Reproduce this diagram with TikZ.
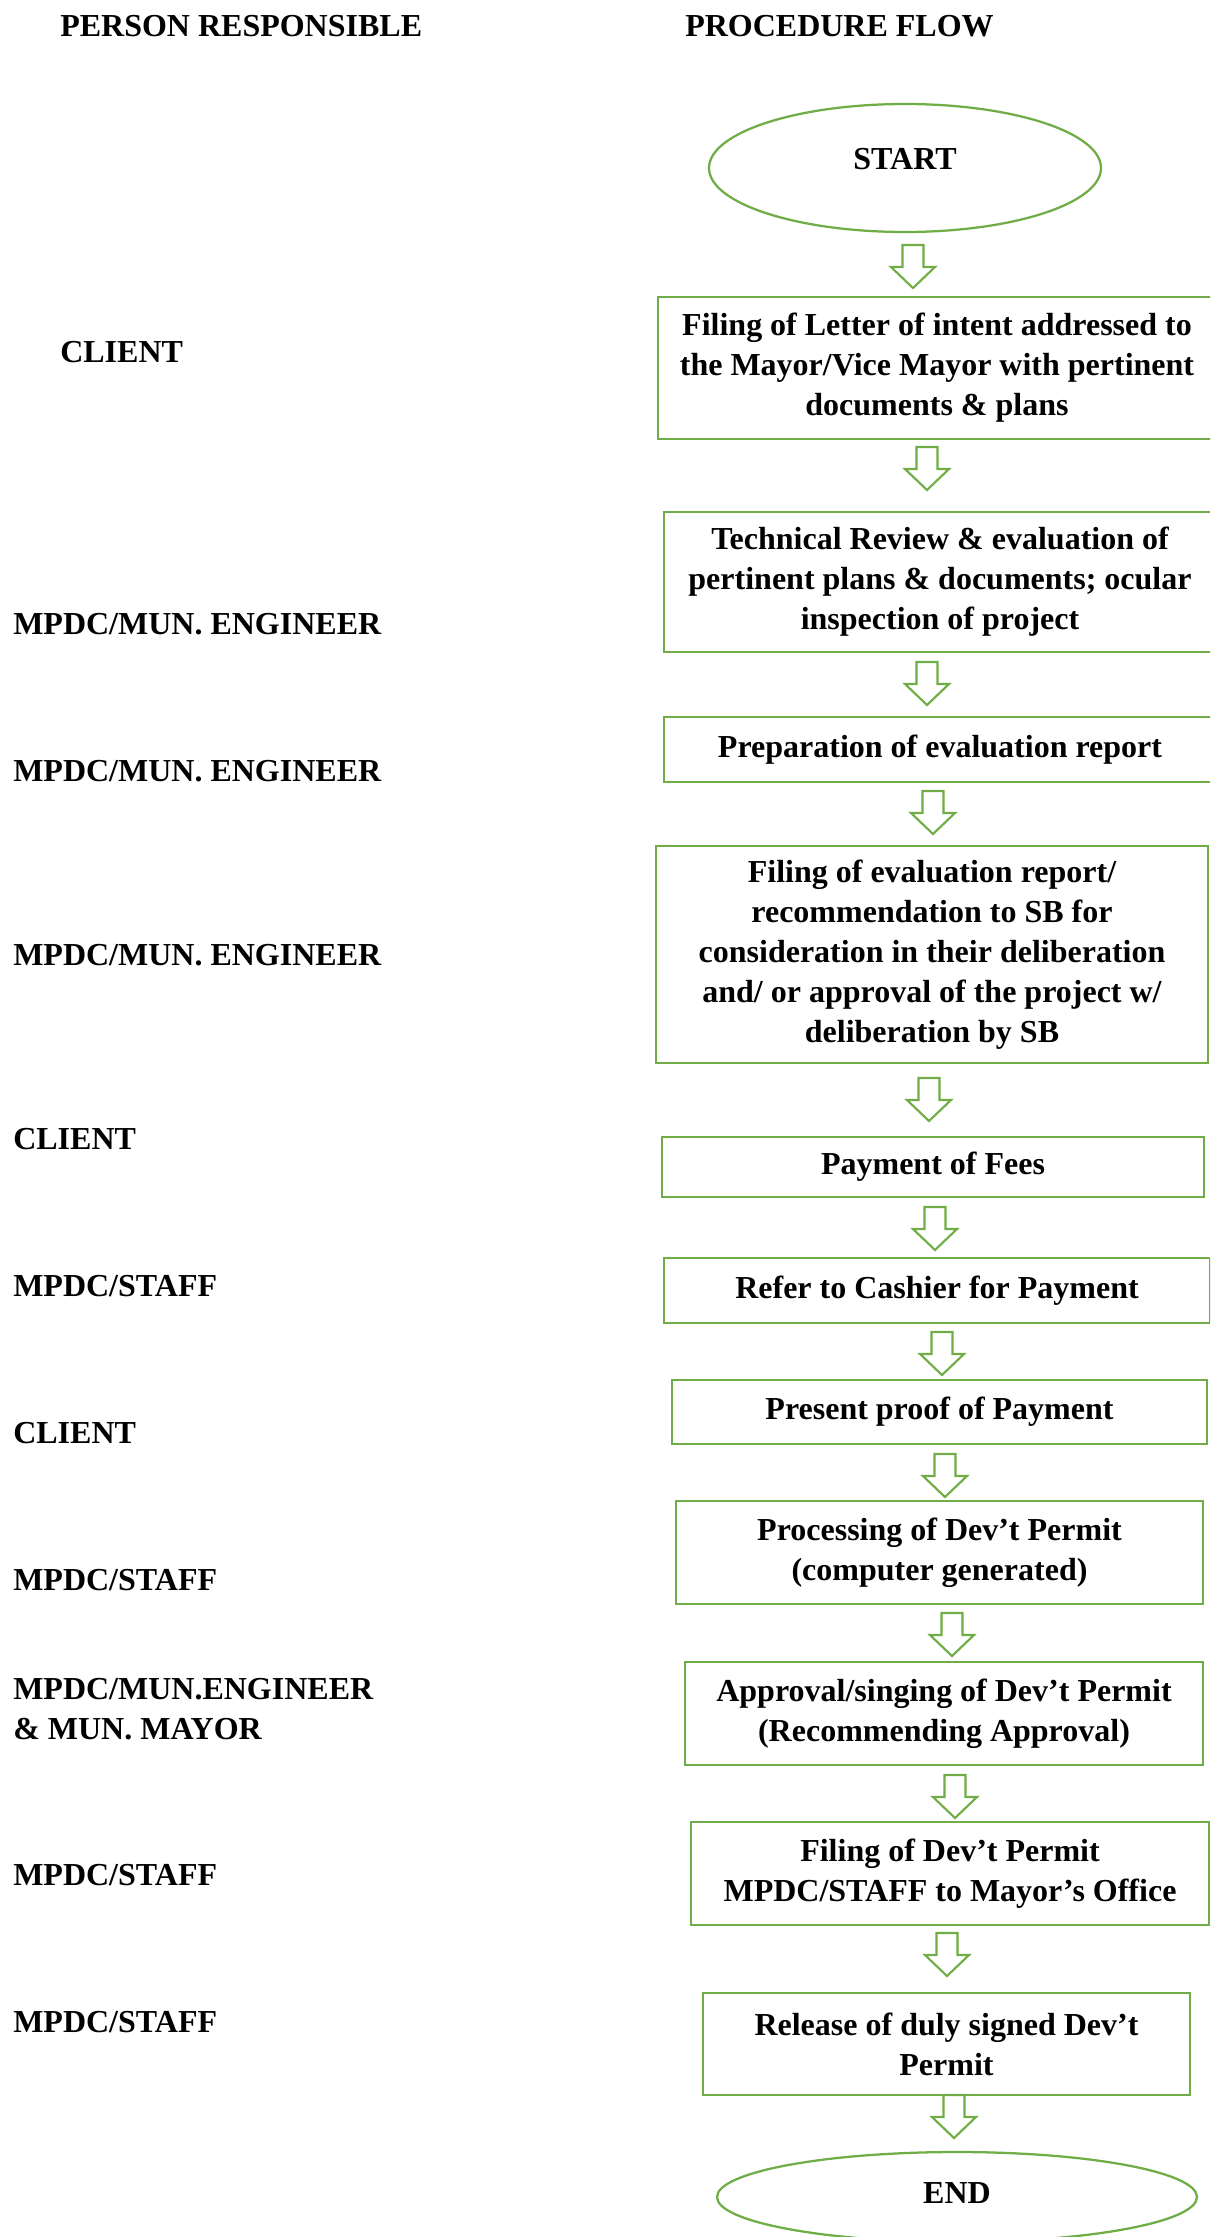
\documentclass[tikz,border=0pt]{standalone}
\usepackage{fontspec}
\setmainfont{Liberation Serif}
\usetikzlibrary{shapes.geometric}
\definecolor{ogreen}{HTML}{70AD47}
\begin{document}
\begin{tikzpicture}[x=0.75pt,y=-0.75pt,
  every node/.style={font=\fontsize{24}{30}\selectfont\bfseries, inner sep=0pt},
  stepbox/.style 2 args={draw=ogreen, line width=2pt, minimum width=#1*0.75pt, minimum height=#2*0.75pt, align=center},
  oval/.style 2 args={ellipse, draw=ogreen, line width=1.7pt, minimum width=#1*0.75pt, minimum height=#2*0.75pt},
  who/.style={anchor=west, align=left},
  blockarrow/.pic={\draw[ogreen, line width=1.6pt, line join=miter]
     (-10.5,0) -- (10.5,0) -- (10.5,22) -- (22,22) -- (0,43) -- (-22,22) -- (-10.5,22) -- cycle;}
]
\useasboundingbox (0,0) rectangle (1210,2237);
\clip (0,0) rectangle (1210,2237);

% headers
\node[who] (h1) at (60,26) {PERSON RESPONSIBLE};
\node[who] (h2) at (685,26) {PROCEDURE FLOW};

% start
\node[oval={392}{128}] (start) at (905,168) {};
\node (starttxt) at (905,159) {START};

% steps
\node[stepbox={558}{142}] (s1) at (937,368) {Filing of Letter of intent addressed to\\the Mayor/Vice Mayor with pertinent\\documents \& plans};
\node[stepbox={552}{140}] (s2) at (940,582) {Technical Review \& evaluation of\\pertinent plans \& documents; ocular\\inspection of project};
\node[stepbox={552}{65}] (s3) at (940,749.5) {Preparation of evaluation report};
\node[stepbox={552}{217}] (s4) at (932,954.5) {Filing of evaluation report/\\recommendation to SB for\\consideration in their deliberation\\and/ or approval of the project w/\\deliberation by SB};
\node[stepbox={542}{60}] (s5) at (933,1167) {Payment of Fees};
\node[stepbox={546}{65}] (s6) at (937,1290.5) {Refer to Cashier for Payment};
\node[stepbox={535}{64}] (s7) at (939.5,1412) {Present proof of Payment};
\node[stepbox={527}{103}] (s8) at (939.5,1552.5) {Processing of Dev’t Permit\\(computer generated)};
\node[stepbox={518}{103}] (s9) at (944,1713.5) {Approval/singing of Dev’t Permit\\(Recommending Approval)};
\node[stepbox={518}{103}] (s10) at (950,1873.5) {Filing of Dev’t Permit\\MPDC/STAFF to Mayor’s Office};
\node[stepbox={487}{102}] (s11) at (946.5,2044) {Release of duly signed Dev’t\\Permit};

% end
\node[oval={480}{90}] (end) at (957,2197) {};
\node (endtxt) at (957,2193) {END};

% block arrows
\pic at (913,245) {blockarrow};
\pic at (927,447) {blockarrow};
\pic at (927,662) {blockarrow};
\pic at (933,791) {blockarrow};
\pic at (929,1078) {blockarrow};
\pic at (935,1207) {blockarrow};
\pic at (942,1332) {blockarrow};
\pic at (945,1454) {blockarrow};
\pic at (952,1613) {blockarrow};
\pic at (955,1775) {blockarrow};
\pic at (947,1933) {blockarrow};
\pic at (954,2095) {blockarrow};

% persons responsible
\node[who] (p1) at (60,352) {CLIENT};
\node[who] (p2) at (13,624) {MPDC/MUN. ENGINEER};
\node[who] (p3) at (13,771) {MPDC/MUN. ENGINEER};
\node[who] (p4) at (13,955) {MPDC/MUN. ENGINEER};
\node[who] (p5) at (13,1139) {CLIENT};
\node[who] (p6) at (13,1286) {MPDC/STAFF};
\node[who] (p7) at (13,1433) {CLIENT};
\node[who] (p8) at (13,1580) {MPDC/STAFF};
\node[who] (p9) at (13,1709) {MPDC/MUN.ENGINEER\\\& MUN. MAYOR};
\node[who] (p10) at (13,1875) {MPDC/STAFF};
\node[who] (p11) at (13,2022) {MPDC/STAFF};
\end{tikzpicture}
\end{document}
